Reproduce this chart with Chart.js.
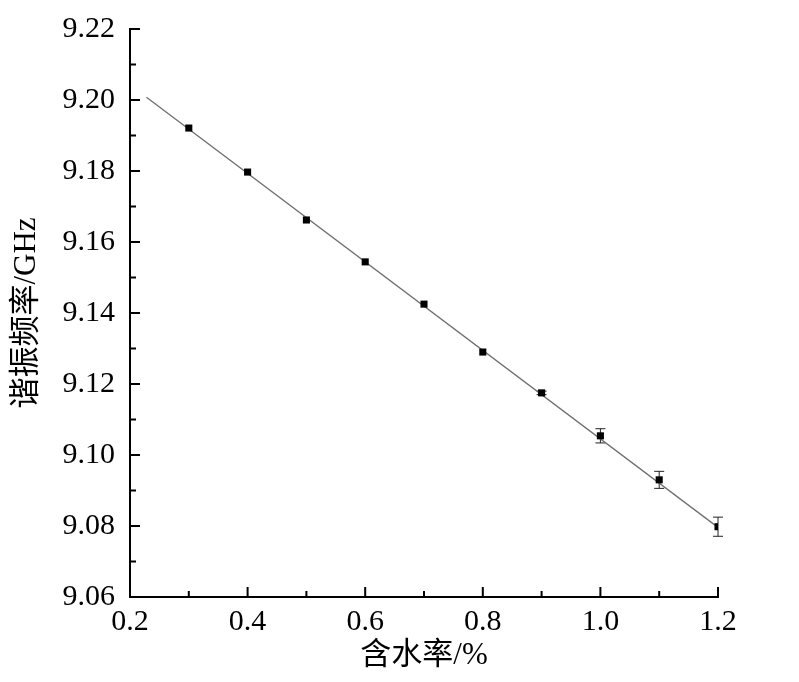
<!DOCTYPE html>
<html>
<head>
<meta charset="utf-8">
<script src="https://cdn.jsdelivr.net/npm/chart.js@4"></script>
<style>
  html, body { margin: 0; padding: 0; background: #fff; }
  #wrap { width: 799px; height: 682px; }
</style>
</head>
<body>
<div id="wrap"><canvas id="freqChart"></canvas></div>
<script>
// moisture content (%) and resonant frequency (GHz)
const moisture = [0.3, 0.4, 0.5, 0.6, 0.7, 0.8, 0.9, 1.0, 1.1, 1.2];
const frequency = [9.1921, 9.1797, 9.1662, 9.1544, 9.1425, 9.1290, 9.1175, 9.1054, 9.0930, 9.0798];
const freqError = [0, 0, 0, 0, 0, 0, 0.0005, 0.0020, 0.0024, 0.0027];

// linear fit line ends
const fitX = [0.228, 1.2];
const fitY = [9.2008, 9.0796];

// tick values
const xMajor = [0.2, 0.4, 0.6, 0.8, 1.0, 1.2];
const xMinor = [0.3, 0.5, 0.7, 0.9, 1.1];
const yMajor = [9.06, 9.08, 9.10, 9.12, 9.14, 9.16, 9.18, 9.20, 9.22];
const yMinor = [9.07, 9.09, 9.11, 9.13, 9.15, 9.17, 9.19, 9.21];

const serif = '"Liberation Serif", "Noto Sans CJK SC", serif';

// error bars drawn under the markers
const errorBars = {
    id: 'errorBars',
    beforeDatasetsDraw(chart) {
        const { ctx, scales: { x, y } } = chart;
        ctx.save();
        ctx.strokeStyle = '#222';
        ctx.lineWidth = 1;
        moisture.forEach((m, i) => {
            const e = freqError[i];
            if (!e) return;
            const px = x.getPixelForValue(m);
            const top = y.getPixelForValue(frequency[i] + e);
            const bot = y.getPixelForValue(frequency[i] - e);
            ctx.beginPath();
            ctx.moveTo(px, top); ctx.lineTo(px, bot);
            ctx.moveTo(px - 5, top); ctx.lineTo(px + 5, top);
            ctx.moveTo(px - 5, bot); ctx.lineTo(px + 5, bot);
            ctx.stroke();
        });
        ctx.restore();
    }
};

// inward ticks on the axes
const inwardTicks = {
    id: 'inwardTicks',
    afterDraw(chart) {
        const { ctx, scales: { x, y }, chartArea } = chart;
        ctx.save();
        ctx.strokeStyle = '#000';
        ctx.lineWidth = 2;
        ctx.beginPath();
        xMajor.forEach(v => {
            const px = x.getPixelForValue(v);
            ctx.moveTo(px, chartArea.bottom); ctx.lineTo(px, chartArea.bottom - 10);
        });
        xMinor.forEach(v => {
            const px = x.getPixelForValue(v);
            ctx.moveTo(px, chartArea.bottom); ctx.lineTo(px, chartArea.bottom - 6);
        });
        yMajor.forEach(v => {
            const py = y.getPixelForValue(v);
            ctx.moveTo(chartArea.left, py); ctx.lineTo(chartArea.left + 10, py);
        });
        yMinor.forEach(v => {
            const py = y.getPixelForValue(v);
            ctx.moveTo(chartArea.left, py); ctx.lineTo(chartArea.left + 6, py);
        });
        ctx.stroke();
        ctx.restore();
    }
};

new Chart(document.getElementById('freqChart'), {
    type: 'scatter',
    data: {
        datasets: [{
            label: 'data',
            data: moisture.map((m, i) => ({ x: m, y: frequency[i] })),
            pointStyle: 'rect',
            pointRadius: 5,
            pointBackgroundColor: '#000',
            pointBorderColor: '#000',
            pointBorderWidth: 0,
            showLine: false,
            order: 0
        }, {
            label: 'fit',
            data: fitX.map((v, i) => ({ x: v, y: fitY[i] })),
            showLine: true,
            borderColor: '#6e6e6e',
            borderWidth: 1.3,
            pointRadius: 0,
            order: 1
        }]
    },
    options: {
        responsive: true,
        maintainAspectRatio: false,
        animation: false,
        layout: { padding: { top: 29, right: 81, left: 0, bottom: 0 } },
        plugins: { legend: { display: false }, tooltip: { enabled: false } },
        scales: {
            x: {
                type: 'linear',
                min: 0.2,
                max: 1.2,
                afterBuildTicks: s => { s.ticks = xMajor.map(v => ({ value: v })); },
                afterFit: s => { s.height = 85; s.paddingLeft = 0; s.paddingRight = 0; },
                grid: { display: false, drawTicks: false },
                border: { display: true, color: '#000', width: 2 },
                ticks: {
                    padding: 7,
                    color: '#000',
                    font: { family: serif, size: 30 },
                    callback: v => v.toFixed(1)
                },
                title: {
                    display: true,
                    text: '含水率/%',
                    color: '#000',
                    font: { family: serif, size: 31 },
                    padding: { top: 0, bottom: 8 }
                }
            },
            y: {
                type: 'linear',
                min: 9.06,
                max: 9.22,
                afterBuildTicks: s => { s.ticks = yMajor.map(v => ({ value: v })); },
                afterFit: s => { s.width = 130; s.paddingTop = 0; s.paddingBottom = 0; },
                grid: { display: false, drawTicks: false },
                border: { display: true, color: '#000', width: 2 },
                ticks: {
                    padding: 15,
                    color: '#000',
                    font: { family: serif, size: 30 },
                    callback: v => v.toFixed(2)
                },
                title: {
                    display: true,
                    text: '谐振频率/GHz',
                    color: '#000',
                    font: { family: serif, size: 31 },
                    padding: { top: 8, bottom: 0 }
                }
            }
        }
    },
    plugins: [errorBars, inwardTicks]
});
</script>
</body>
</html>
